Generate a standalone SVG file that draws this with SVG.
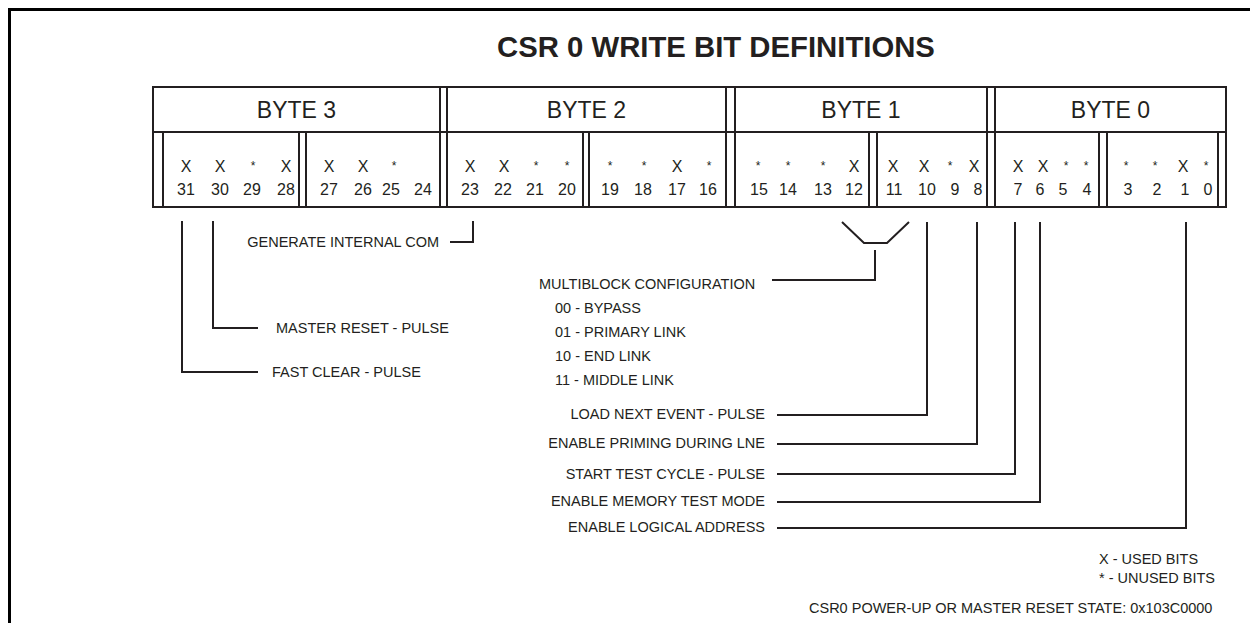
<svg xmlns="http://www.w3.org/2000/svg" width="1250" height="623" viewBox="0 0 1250 623">
<style>
  text { font-family: "Liberation Sans", Arial, sans-serif; fill: #231f20; }
  .title { font-size: 29.3px; font-weight: bold; text-anchor: middle; }
  .byte { font-size: 23px; text-anchor: middle; }
  .bit { font-size: 16px; text-anchor: middle; }
  .ast { font-size: 12px; text-anchor: middle; }
  .lbl { font-size: 14.5px; }
  .end { text-anchor: end; }
  .tl { fill: none; stroke: #231f20; stroke-width: 2; }
  .cn { fill: none; stroke: #231f20; stroke-width: 2; }
</style>
<rect width="1250" height="623" fill="#ffffff"/>
<path d="M 9.5 623 V 9.5 H 1250" fill="none" stroke="#000" stroke-width="3"/>
<g id="title"><text class="title" x="716" y="57">CSR 0 WRITE BIT DEFINITIONS</text></g>
<g id="register-table">
  <rect class="tl" x="153" y="87" width="1073" height="120"/>
  <path class="tl" d="M153 132 H1226 M440 87 V207 M447 87 V207 M726 87 V207 M735 87 V207 M987 87 V207 M995 87 V207 M163 132 V207 M299 132 V207 M306 132 V207 M583 132 V207 M589 132 V207 M869 132 V207 M877 132 V207 M1099 132 V207 M1107 132 V207 M1218 132 V207"/>
  <text class="byte" x="296.5" y="118">BYTE 3</text>
  <text class="byte" x="586.5" y="118">BYTE 2</text>
  <text class="byte" x="861" y="118">BYTE 1</text>
  <text class="byte" x="1110.5" y="118">BYTE 0</text>
  <g class="marks">
    <text class="bit" x="186" y="172">X</text><text class="bit" x="220" y="172">X</text><text class="ast" x="253" y="170">*</text><text class="bit" x="286" y="172">X</text>
    <text class="bit" x="329" y="172">X</text><text class="bit" x="363" y="172">X</text><text class="ast" x="394" y="170">*</text>
    <text class="bit" x="470" y="172">X</text><text class="bit" x="504" y="172">X</text><text class="ast" x="536" y="170">*</text><text class="ast" x="567" y="170">*</text>
    <text class="ast" x="610" y="170">*</text><text class="ast" x="644" y="170">*</text><text class="bit" x="677" y="172">X</text><text class="ast" x="709" y="170">*</text>
    <text class="ast" x="758" y="170">*</text><text class="ast" x="788" y="170">*</text><text class="ast" x="823" y="170">*</text><text class="bit" x="854" y="172">X</text>
    <text class="bit" x="893" y="172">X</text><text class="bit" x="924" y="172">X</text><text class="ast" x="950" y="170">*</text><text class="bit" x="974" y="172">X</text>
    <text class="bit" x="1018" y="172">X</text><text class="bit" x="1043" y="172">X</text><text class="ast" x="1066" y="170">*</text><text class="ast" x="1086" y="170">*</text>
    <text class="ast" x="1126" y="170">*</text><text class="ast" x="1155" y="170">*</text><text class="bit" x="1183" y="172">X</text><text class="ast" x="1206" y="170">*</text>
  </g>
  <g class="numbers">
    <text class="bit" x="186" y="195">31</text><text class="bit" x="220" y="195">30</text><text class="bit" x="252" y="195">29</text><text class="bit" x="286" y="195">28</text>
    <text class="bit" x="329" y="195">27</text><text class="bit" x="363" y="195">26</text><text class="bit" x="391" y="195">25</text><text class="bit" x="423" y="195">24</text>
    <text class="bit" x="470" y="195">23</text><text class="bit" x="503" y="195">22</text><text class="bit" x="535" y="195">21</text><text class="bit" x="567" y="195">20</text>
    <text class="bit" x="610" y="195">19</text><text class="bit" x="643" y="195">18</text><text class="bit" x="677" y="195">17</text><text class="bit" x="708" y="195">16</text>
    <text class="bit" x="759" y="195">15</text><text class="bit" x="788" y="195">14</text><text class="bit" x="823" y="195">13</text><text class="bit" x="854" y="195">12</text>
    <text class="bit" x="894" y="195">11</text><text class="bit" x="927" y="195">10</text><text class="bit" x="955" y="195">9</text><text class="bit" x="978" y="195">8</text>
    <text class="bit" x="1018" y="195">7</text><text class="bit" x="1040" y="195">6</text><text class="bit" x="1063" y="195">5</text><text class="bit" x="1087" y="195">4</text>
    <text class="bit" x="1128" y="195">3</text><text class="bit" x="1157" y="195">2</text><text class="bit" x="1185" y="195">1</text><text class="bit" x="1208" y="195">0</text>
  </g>
</g>
<g id="connectors">
  <path class="cn" d="M182 221 V372 H258"/>
  <path class="cn" d="M213 221 V328 H258"/>
  <path class="cn" d="M473 221 V242 H450"/>
  <path class="cn" d="M842 222 L864 243 H887 L909 222"/>
  <path class="cn" d="M875 250 V280 H772"/>
  <path class="cn" d="M927 222 V415 H777"/>
  <path class="cn" d="M977 222 V444 H777"/>
  <path class="cn" d="M1015 222 V474 H777"/>
  <path class="cn" d="M1040 222 V502 H777"/>
  <path class="cn" d="M1186 222 V528 H777"/>
</g>
<g id="label-fast-clear"><text class="lbl" x="272" y="377">FAST CLEAR - PULSE</text></g>
<g id="label-master-reset"><text class="lbl" x="276" y="333">MASTER RESET - PULSE</text></g>
<g id="label-generate-internal-com"><text class="lbl end" x="439" y="247">GENERATE INTERNAL COM</text></g>
<g id="label-multiblock">
  <text class="lbl" x="539" y="289">MULTIBLOCK CONFIGURATION</text>
  <text class="lbl" x="555" y="313">00 - BYPASS</text>
  <text class="lbl" x="555" y="337">01 - PRIMARY LINK</text>
  <text class="lbl" x="555" y="361">10 - END LINK</text>
  <text class="lbl" x="555" y="385">11 - MIDDLE LINK</text>
</g>
<g id="label-load-next-event"><text class="lbl end" x="765" y="419">LOAD NEXT EVENT - PULSE</text></g>
<g id="label-enable-priming"><text class="lbl end" x="765" y="448">ENABLE PRIMING DURING LNE</text></g>
<g id="label-start-test-cycle"><text class="lbl end" x="765" y="479">START TEST CYCLE - PULSE</text></g>
<g id="label-enable-memory-test"><text class="lbl end" x="765" y="506">ENABLE MEMORY TEST MODE</text></g>
<g id="label-enable-logical-address"><text class="lbl end" x="765" y="532">ENABLE LOGICAL ADDRESS</text></g>
<g id="legend">
  <text class="lbl" x="1099" y="564">X - USED BITS</text>
  <text class="lbl" x="1099" y="583">* - UNUSED BITS</text>
  <text class="lbl" x="809" y="613">CSR0 POWER-UP OR MASTER RESET STATE: 0x103C0000</text>
</g>
</svg>
